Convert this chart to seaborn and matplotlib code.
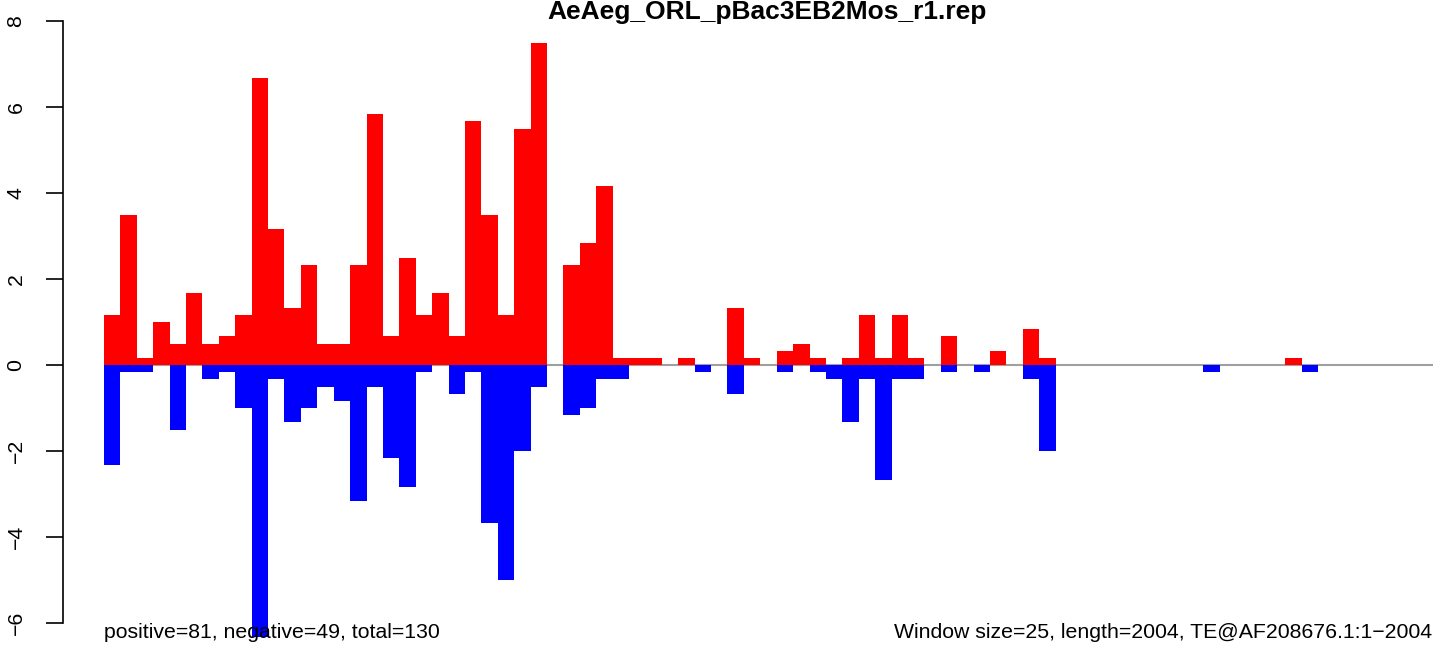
import numpy as np
import pandas as pd
import matplotlib
matplotlib.use("Agg")
import matplotlib.pyplot as plt
import seaborn as sns

title = "AeAeg_ORL_pBac3EB2Mos_r1.rep"
window = 25
length = 2004
left_note = "positive=81, negative=49, total=130"
right_note = "Window size=25, length=2004, TE@AF208676.1:1\u22122004"

# per-window values (81 windows of 25 bp)
pos = [1.17, 3.5, 0.17, 1.0, 0.5, 1.67, 0.5, 0.67, 1.17, 6.67,
       3.17, 1.33, 2.33, 0.5, 0.5, 2.33, 5.83, 0.67, 2.5, 1.17,
       1.67, 0.67, 5.67, 3.5, 1.17, 5.5, 7.5, 0, 2.33, 2.83,
       4.17, 0.17, 0.17, 0.17, 0, 0.17, 0, 0, 1.33, 0.17,
       0, 0.33, 0.5, 0.17, 0, 0.17, 1.17, 0.17, 1.17, 0.17,
       0, 0.67, 0, 0, 0.33, 0, 0.83, 0.17, 0, 0,
       0, 0, 0, 0, 0, 0, 0, 0, 0, 0,
       0, 0, 0.17, 0, 0, 0, 0, 0, 0, 0,
       0]
neg = [-2.33, -0.17, -0.17, 0, -1.5, 0, -0.33, -0.17, -1.0, -6.33,
       -0.33, -1.33, -1.0, -0.5, -0.83, -3.17, -0.5, -2.17, -2.83, -0.17,
       0, -0.67, -0.17, -3.67, -5.0, -2.0, -0.5, 0, -1.17, -1.0,
       -0.33, -0.33, 0, 0, 0, 0, -0.17, 0, -0.67, 0,
       0, -0.17, 0, -0.17, -0.33, -1.33, -0.33, -2.67, -0.33, -0.33,
       0, -0.17, 0, -0.17, 0, 0, -0.33, -2.0, 0, 0,
       0, 0, 0, 0, 0, 0, 0, -0.17, 0, 0,
       0, 0, 0, -0.17, 0, 0, 0, 0, 0, 0,
       0]

n = len(pos)
df = pd.DataFrame({"mid": np.arange(n) * window + window / 2, "pos": pos, "neg": neg})

W, H = 1444, 647
fig = plt.figure(figsize=(W / 100, H / 100), dpi=100)
ylo, yhi = -6.4, 8.2
zero_px, unit_px = 365, 43.0
top_px = zero_px - yhi * unit_px
bot_px = zero_px - ylo * unit_px
ax = fig.add_axes([63 / W, 1 - bot_px / H, (1433 - 63) / W, (bot_px - top_px) / H])

ax.hlines(0, 0, n * window, color="#a0a0a0", lw=1.5, zorder=1)
sns.barplot(data=df, x="mid", y="pos", native_scale=True, width=1, color="#ff0000",
            saturation=1, linewidth=0, edgecolor="none", ax=ax, zorder=2)
sns.barplot(data=df, x="mid", y="neg", native_scale=True, width=1, color="#0000ff",
            saturation=1, linewidth=0, edgecolor="none", ax=ax, zorder=2)

ax.set_xlim(-62.5, n * window)
ax.set_ylim(ylo, yhi)
for s in ["top", "right", "bottom"]:
    ax.spines[s].set_visible(False)
ax.spines["left"].set_bounds(-6, 8)
ax.spines["left"].set_linewidth(1.2)
ax.set_xticks([])
ax.set_yticks(range(-6, 9, 2))
ax.set_yticklabels([str(v).replace("-", "\u2212") for v in range(-6, 9, 2)],
                   rotation=90, va="center", fontsize=15.3)
ax.tick_params(axis="y", length=12, width=1.2, pad=15)
ax.set_xlabel("")
ax.set_ylabel("")
ax.patch.set_alpha(0)

fig.text(767 / W, 1 - 19 / H, title, ha="center", va="baseline",
         fontsize=19, fontweight="bold", family="Liberation Sans")
fig.text(104 / W, 1 - 638 / H, left_note, ha="left", va="baseline",
         fontsize=15.3, family="Liberation Sans")
fig.text(1432 / W, 1 - 638 / H, right_note, ha="right", va="baseline",
         fontsize=15.3, family="Liberation Sans")
for t in ax.get_yticklabels():
    t.set_family("Liberation Sans")

fig.savefig("out.png", dpi=100, facecolor="white")
